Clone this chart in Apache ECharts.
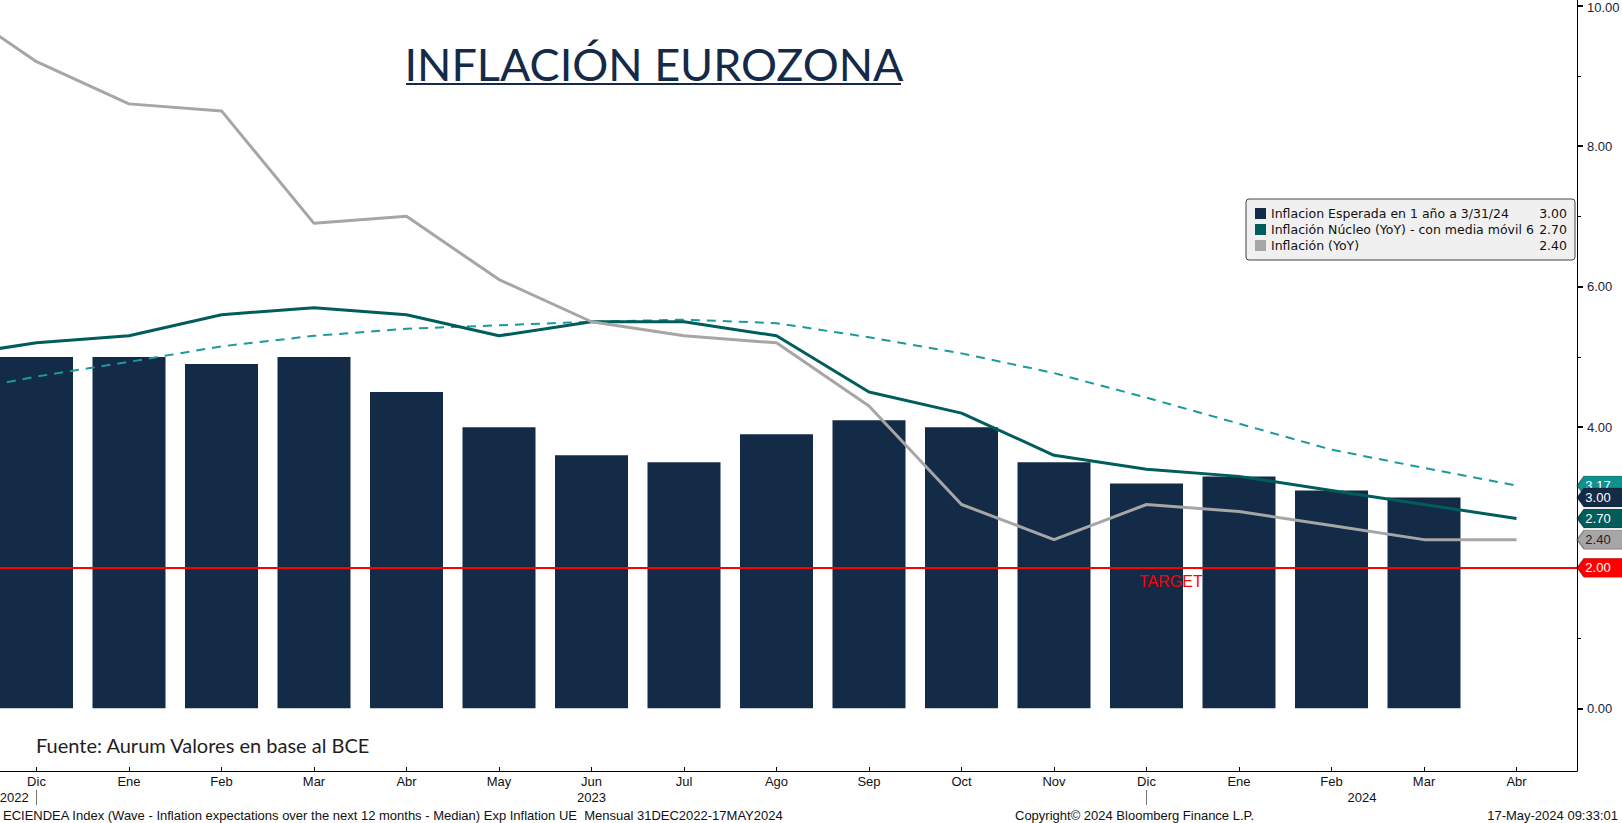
<!DOCTYPE html>
<html>
<head>
<meta charset="utf-8">
<title>Inflación Eurozona</title>
<script src="https://cdn.jsdelivr.net/npm/echarts@6.0.0/dist/echarts.min.js"></script>
<style>
  html, body { margin: 0; padding: 0; background: #fff; }
  #chart { width: 1622px; height: 823px; }
</style>
</head>
<body>
<div id="chart"></div>
<script>
  // meses del eje: indice 0 = Dic 2022 ... 16 = Abr 2024
  var months = ['Dic', 'Ene', 'Feb', 'Mar', 'Abr', 'May', 'Jun', 'Jul', 'Ago',
                'Sep', 'Oct', 'Nov', 'Dic', 'Ene', 'Feb', 'Mar', 'Abr'];
  var yearLabels = ['2022', '2023', '2024'];
  var yearPos = [-0.24, 6, 14.33];
  var yearBreaks = [0, 12];

  // expectativa de inflacion a 1 año (Dic 2022 .. Mar 2024)
  var expected = [5.0, 5.0, 4.9, 5.0, 4.5, 4.0, 3.6, 3.5, 3.9, 4.1, 4.0, 3.5, 3.2, 3.3, 3.1, 3.0];
  // lineas: primer valor = Nov 2022 (fuera del grafico), ultimo = Abr 2024
  var core = [5.0, 5.2, 5.3, 5.6, 5.7, 5.6, 5.3, 5.5, 5.5, 5.3, 4.5, 4.2, 3.6, 3.4, 3.3, 3.1, 2.9, 2.7];
  var coreAvg = [4.47, 4.72, 4.93, 5.15, 5.30, 5.40, 5.45, 5.50, 5.53, 5.48, 5.28, 5.05, 4.77, 4.42, 4.05, 3.68, 3.42, 3.17];
  var headline = [10.1, 9.2, 8.6, 8.5, 6.9, 7.0, 6.1, 5.5, 5.3, 5.2, 4.3, 2.9, 2.4, 2.9, 2.8, 2.6, 2.4, 2.4];

  var yTicks = [0, 2, 4, 6, 8, 10];
  var yMinor = [1, 3, 5, 7, 9];
  var target = 2;

  var nameExp = 'Inflacion Esperada en 1 año a 3/31/24';
  var nameCore = 'Inflación Núcleo (YoY) - con media móvil 6';
  var nameHead = 'Inflación (YoY)';
  var nameAvg = 'Media móvil 6';

  var NAVY = '#132b46', TEAL = '#005d5b', TEAL_L = '#1a9a9a', GRAY = '#a6a6a6', RED = '#ff0000';
  var BB_FONT = '"Liberation Sans", Arial, sans-serif';
  var LEG_FONT = '"DejaVu Sans", Verdana, sans-serif';
  var X_MIN = -0.3946, X_MAX = 16.654;
  var Y_MIN = -0.892, Y_MAX = 10.078;

  function last(a) { return a[a.length - 1]; }
  function pairs(a, start) { return a.map(function (v, i) { return [i + start, v]; }); }
  function nearest(arr, v) {
    var best = 0;
    arr.forEach(function (p, i) { if (Math.abs(p - v) < Math.abs(arr[best] - v)) best = i; });
    return best;
  }
  // etiqueta de valor en el eje derecho
  function tag(value, bg, fg) {
    return {
      coord: [X_MAX, value],
      value: value,
      symbol: 'path://M0,9.5 L7,0 L50,0 L50,19 L7,19 Z',
      symbolSize: [50, 19],
      symbolOffset: [25, 0],
      itemStyle: { color: bg, borderColor: 'rgba(0,0,0,0.35)', borderWidth: 1 },
      label: {
        show: true, position: 'inside', offset: [-4, 0],
        color: fg, fontSize: 13, fontFamily: BB_FONT,
        formatter: function (p) { return p.value.toFixed(2); }
      }
    };
  }

  var legendValues = {};
  legendValues[nameExp] = last(expected).toFixed(2);
  legendValues[nameCore] = last(core).toFixed(2);
  legendValues[nameHead] = last(headline).toFixed(2);

  var chart = echarts.init(document.getElementById('chart'), null, { renderer: 'svg' });
  chart.setOption({
    animation: false,
    backgroundColor: '#fff',
    grid: { left: 0, right: 45, top: 0, bottom: 52, outerBoundsMode: 'none' },
    legend: {
      data: [nameExp, nameCore, nameHead],
      orient: 'vertical',
      left: 1246, top: 199,
      icon: 'rect', itemWidth: 11, itemHeight: 11, itemGap: 3,
      backgroundColor: '#f0f0f0', borderColor: '#444', borderWidth: 1, borderRadius: 3,
      padding: [8, 8, 8, 9],
      selectedMode: false,
      textStyle: {
        fontFamily: LEG_FONT, fontSize: 12.5, color: '#111',
        rich: {
          n: { width: 256, fontSize: 12.5, lineHeight: 16, fontFamily: LEG_FONT, color: '#111' },
          v: { width: 40, align: 'right', fontSize: 12.5, lineHeight: 16, fontFamily: LEG_FONT, color: '#111' }
        }
      },
      formatter: function (name) { return '{n|' + name + '}{v|' + legendValues[name] + '}'; }
    },
    xAxis: [{
      type: 'value', min: X_MIN, max: X_MAX, position: 'bottom',
      axisLine: { show: true, onZero: false, lineStyle: { color: '#000', width: 1 } },
      axisTick: { show: true, inside: true, length: 4, customValues: months.map(function (m, i) { return i; }), lineStyle: { color: '#000' } },
      axisLabel: {
        customValues: months.map(function (m, i) { return i; }),
        formatter: function (v) { return months[Math.round(v)]; },
        margin: 4, color: '#111', fontSize: 13, fontFamily: BB_FONT
      },
      splitLine: { show: false }
    }, {
      type: 'value', min: X_MIN, max: X_MAX, position: 'bottom', offset: 19,
      axisLine: { show: false, onZero: false },
      axisTick: { show: true, length: 15, customValues: yearBreaks, lineStyle: { color: '#777' } },
      axisLabel: {
        customValues: yearPos,
        formatter: function (v) { return yearLabels[nearest(yearPos, v)]; },
        margin: 1, color: '#111', fontSize: 13, fontFamily: BB_FONT
      },
      splitLine: { show: false }
    }],
    yAxis: [{
      type: 'value', position: 'right', min: Y_MIN, max: Y_MAX,
      axisLine: { show: true, onZero: false, lineStyle: { color: '#000' } },
      axisTick: { show: true, length: 6, customValues: yTicks, lineStyle: { color: '#000', width: 2 } },
      axisLabel: {
        customValues: yTicks,
        formatter: function (v) { return v.toFixed(2); },
        verticalAlignMaxLabel: 'top', lineHeight: 4,
        margin: 10, color: '#1b2438', fontSize: 13, fontFamily: BB_FONT
      },
      splitLine: { show: false }
    }, {
      type: 'value', position: 'right', min: Y_MIN, max: Y_MAX,
      axisLine: { show: false, onZero: false },
      axisTick: { show: true, length: 4, customValues: yMinor, lineStyle: { color: '#000' } },
      axisLabel: { show: false },
      splitLine: { show: false }
    }],
    series: [{
      name: nameExp,
      type: 'bar',
      data: pairs(expected, 0),
      barWidth: 73,
      itemStyle: { color: NAVY },
      z: 2,
      markLine: {
        silent: true, symbol: 'none',
        data: [{ yAxis: target }],
        lineStyle: { color: RED, width: 2, type: 'solid' },
        label: { show: false }
      },
      markPoint: { z: 7, data: [tag(last(expected), NAVY, '#fff'), tag(target, RED, '#fff')] }
    }, {
      name: nameAvg,
      type: 'line',
      data: pairs(coreAvg, -1),
      showSymbol: false,
      lineStyle: { color: TEAL_L, width: 2, type: [9, 7] },
      itemStyle: { color: TEAL_L },
      z: 3,
      markPoint: { z: 5, data: [tag(last(coreAvg), '#12908e', '#fff')] }
    }, {
      name: nameCore,
      type: 'line',
      data: pairs(core, -1),
      showSymbol: false,
      lineStyle: { color: TEAL, width: 3 },
      itemStyle: { color: TEAL },
      z: 4,
      markPoint: { z: 6, data: [tag(last(core), TEAL, '#fff')] }
    }, {
      name: nameHead,
      type: 'line',
      data: pairs(headline, -1),
      showSymbol: false,
      lineStyle: { color: GRAY, width: 3 },
      itemStyle: { color: GRAY },
      z: 4,
      markPoint: { z: 6, data: [tag(last(headline), GRAY, '#222')] }
    }],
    graphic: [{
      type: 'text', z: 100,
      style: { text: 'INFLACIÓN EUROZONA', x: 654, y: 64, align: 'center', verticalAlign: 'middle',
               font: '45px Lato, sans-serif', fill: '#142a48' }
    }, {
      type: 'rect', z: 100, shape: { x: 406, y: 83, width: 495, height: 2 }, style: { fill: '#142a48' }
    }, {
      type: 'text', z: 100,
      style: { text: 'Fuente: Aurum Valores en base al BCE', x: 36, y: 745, verticalAlign: 'middle',
               font: '20px Lato, sans-serif', fill: '#1e1e1e' }
    }, {
      type: 'text', z: 100,
      style: { text: 'TARGET', x: 1139, y: 581, verticalAlign: 'middle',
               font: '16px "Liberation Sans", Arial, sans-serif', fill: RED }
    }, {
      type: 'text', z: 100,
      style: { text: 'ECIENDEA Index (Wave - Inflation expectations over the next 12 months - Median) Exp Inflation UE  Mensual 31DEC2022-17MAY2024',
               x: 3, y: 815, verticalAlign: 'middle', font: '13px "Liberation Sans", Arial, sans-serif', fill: '#111' }
    }, {
      type: 'text', z: 100,
      style: { text: 'Copyright© 2024 Bloomberg Finance L.P.', x: 1015, y: 815, verticalAlign: 'middle',
               font: '13px "Liberation Sans", Arial, sans-serif', fill: '#111' }
    }, {
      type: 'text', z: 100,
      style: { text: '17-May-2024 09:33:01', x: 1618, y: 815, align: 'right', verticalAlign: 'middle',
               font: '13px "Liberation Sans", Arial, sans-serif', fill: '#111' }
    }]
  });
</script>
</body>
</html>
